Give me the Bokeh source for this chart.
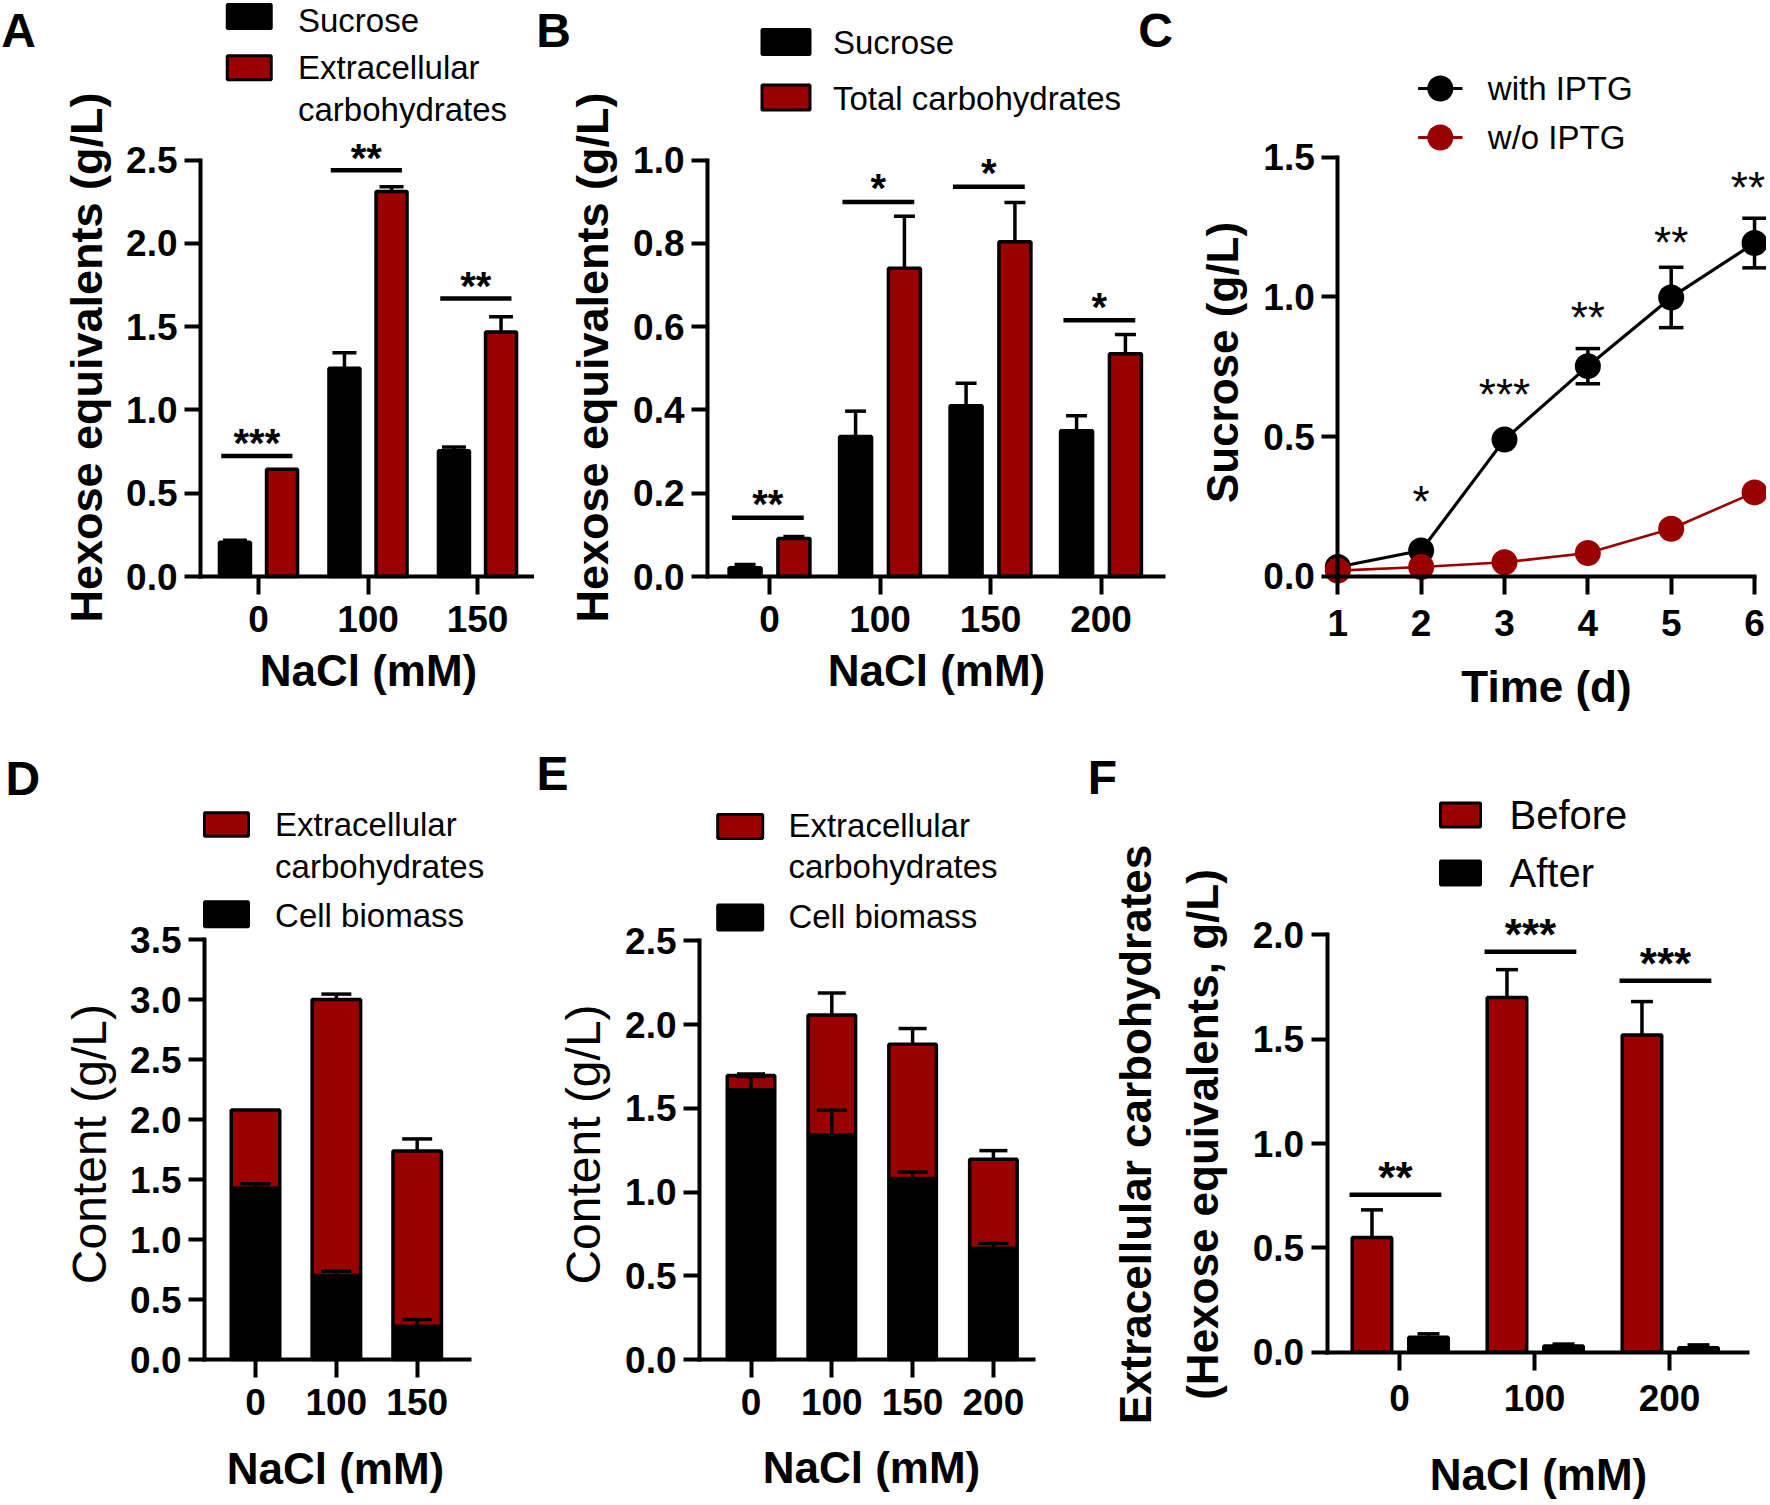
import math
from bokeh.plotting import figure
from bokeh.models import Range1d, FixedTicker, NumeralTickFormatter, Label
from bokeh.layouts import row, column
from bokeh.embed import file_html
from bokeh.resources import INLINE

FONT = "Liberation Sans"
RED = "#9b0000"

# ---------------- data ----------------
# A: sucrose vs extracellular carbohydrates
a_nacl = ["0", "100", "150"]
a_sucrose = [0.205, 1.25, 0.755]
a_sucrose_err = [0.013, 0.093, 0.022]
a_extracellular = [0.644, 2.311, 1.468]
a_extracellular_err = [0.0, 0.029, 0.091]
a_sig = ["***", "**", "**"]
a_sig_y = [0.723, 2.439, 1.668]
a_yticks = [0.0, 0.5, 1.0, 1.5, 2.0, 2.5]

# B: sucrose vs total carbohydrates
b_nacl = ["0", "100", "150", "200"]
b_sucrose = [0.021, 0.336, 0.41, 0.35]
b_sucrose_err = [0.008, 0.061, 0.054, 0.036]
b_total = [0.091, 0.74, 0.804, 0.535]
b_total_err = [0.005, 0.125, 0.094, 0.046]
b_sig = ["**", "*", "*", "*"]
b_sig_y = [0.141, 0.899, 0.936, 0.615]
b_yticks = [0.0, 0.2, 0.4, 0.6, 0.8, 1.0]

# C: sucrose over time
c_days = [1, 2, 3, 4, 5, 6]
c_with_iptg = [0.033, 0.092, 0.489, 0.752, 0.998, 1.193]
c_with_iptg_err = [0.0, 0.0, 0.0, 0.063, 0.108, 0.089]
c_without_iptg = [0.02, 0.033, 0.05, 0.083, 0.17, 0.30]
c_sig_days = [2, 3, 4, 5, 6]
c_sig = ["*", "***", "**", "**", "**"]
c_sig_y = [0.295, 0.677, 0.952, 1.22, 1.417]
c_yticks = [0.0, 0.5, 1.0, 1.5]

# D: content, stacked
d_nacl = ["0", "100", "150"]
d_biomass = [1.43, 0.70, 0.278]
d_biomass_err = [0.034, 0.036, 0.055]
d_extracellular = [0.65, 2.30, 1.46]
d_extracellular_err = [0.0, 0.045, 0.10]
d_yticks = [0.0, 0.5, 1.0, 1.5, 2.0, 2.5, 3.0, 3.5]

# E: content, stacked
e_nacl = ["0", "100", "150", "200"]
e_biomass = [1.61, 1.34, 1.081, 0.664]
e_biomass_err = [0.08, 0.149, 0.038, 0.029]
e_extracellular = [0.086, 0.717, 0.801, 0.531]
e_extracellular_err = [0.009, 0.131, 0.094, 0.052]
e_yticks = [0.0, 0.5, 1.0, 1.5, 2.0, 2.5]

# F: before / after
f_nacl = ["0", "100", "200"]
f_before = [0.55, 1.70, 1.52]
f_before_err = [0.132, 0.133, 0.16]
f_after = [0.072, 0.03, 0.021]
f_after_err = [0.016, 0.009, 0.014]
f_sig = ["**", "***", "***"]
f_sig_y = [0.755, 1.919, 1.78]
f_yticks = [0.0, 0.5, 1.0, 1.5, 2.0]


# ---------------- helpers ----------------
class Panel:
    """A figure whose plotting frame covers the whole figure; axes are
    drawn at fixed locations inside it, so every text stays in the frame."""

    def __init__(self, fig_box, xref, yref):
        L, T, R, B = fig_box
        self.right = R
        self.xpx, self.xval, self.xs = xref
        self.ypx, self.yval, self.ys = yref
        p = figure(width=R - L, height=B - T,
                   x_range=Range1d(self.X(L), self.X(R)),
                   y_range=Range1d(self.Y(B), self.Y(T)),
                   min_border=0, min_border_left=0, min_border_right=0,
                   min_border_top=0, min_border_bottom=0,
                   output_backend="svg", toolbar_location=None)
        p.xgrid.visible = False
        p.ygrid.visible = False
        p.outline_line_color = None
        p.background_fill_color = "white"
        p.border_fill_color = "white"
        self.p = p

    def X(self, px):
        return self.xval + (px - self.xpx) / self.xs

    def Y(self, py):
        return self.yval + (self.ypx - py) / self.ys

    def py(self, y):
        return self.ypx - (y - self.yval) * self.ys

    def label(self, px, py, text, size, bold=False, align="left",
              angle=0.0, baseline="middle"):
        self.p.add_layout(Label(
            x=self.X(px), y=self.Y(py), text=text, text_font=FONT,
            text_font_size=f"{size}px",
            text_font_style="bold" if bold else "normal",
            text_align=align, text_baseline=baseline, angle=angle,
            text_color="black"))

    def box(self, cx, cy, w, h, color):
        self.p.rect(x=[self.X(cx)], y=[self.Y(cy)], width=w, height=h,
                    width_units="screen", height_units="screen",
                    fill_color=color, line_color="black", line_width=3)


def style_axis(ax, tick_out, standoff):
    ax.axis_line_width = 4
    ax.axis_line_color = "black"
    ax.axis_line_cap = "square"
    ax.major_tick_line_width = 4
    ax.major_tick_line_color = "black"
    ax.major_tick_in = 0
    ax.major_tick_out = tick_out
    ax.minor_tick_line_color = None
    ax.major_label_text_font = FONT
    ax.major_label_text_font_size = "37px"
    ax.major_label_text_font_style = "bold"
    ax.major_label_text_color = "black"
    ax.major_label_standoff = standoff


def bar_axes(pn, cats, yticks, x_standoff, yaxis_px, xend_px):
    xa, ya = pn.p.xaxis[0], pn.p.yaxis[0]
    style_axis(xa, 18, x_standoff)
    style_axis(ya, 16, 7)
    xa.fixed_location = 0
    ya.fixed_location = pn.X(yaxis_px)
    xa.bounds = (pn.X(yaxis_px), pn.X(xend_px))
    xa.ticker = FixedTicker(ticks=list(range(len(cats))))
    xa.major_label_overrides = {i: c for i, c in enumerate(cats)}
    ya.ticker = FixedTicker(ticks=yticks)
    ya.formatter = NumeralTickFormatter(format="0.0")
    ya.bounds = (min(yticks), max(yticks))


def errbars(pn, xs, vals, errs, cap_px, both=False, lw=3.5):
    pts = [(x, v, e) for x, v, e in zip(xs, vals, errs) if e > 0]
    if not pts:
        return
    x = [t[0] for t in pts]
    hi = [t[1] + t[2] for t in pts]
    lo = [t[1] - t[2] if both else t[1] for t in pts]
    half = cap_px / 2.0 / pn.xs
    p = pn.p
    p.segment(x0=x, y0=lo, x1=x, y1=hi, line_color="black", line_width=lw)
    p.segment(x0=[v - half for v in x], y0=hi, x1=[v + half for v in x], y1=hi,
              line_color="black", line_width=lw)
    if both:
        p.segment(x0=[v - half for v in x], y0=lo, x1=[v + half for v in x], y1=lo,
                  line_color="black", line_width=lw)


def star_label(pn, px, centre_py, text, size, bold):
    # keep the text inside the canvas; the asterisk sits ~0.21 em above
    # the middle of the em box
    half_w = 0.2 * size * len(text)
    px = min(px, pn.right - half_w - 1)
    pn.label(px, centre_py + 0.21 * size, text, size, bold=bold, align="center")


def sig_marks(pn, sig_y, sig_text, lo, hi, star_px, star_size):
    n = len(sig_y)
    pn.p.segment(x0=[i + lo for i in range(n)], y0=sig_y,
                 x1=[i + hi for i in range(n)], y1=sig_y,
                 line_color="black", line_width=4.5)
    for i, (y, t) in enumerate(zip(sig_y, sig_text)):
        star_label(pn, pn.xpx + (i + (lo + hi) / 2.0) * pn.xs,
                   pn.py(y) - star_px, t, star_size, True)


# ---------------- Panel A ----------------
pa = Panel((0, 0, 534, 725), (258, 0, 109.5), (576, 0, 166.6))
bar_axes(pa, a_nacl, a_yticks, 11, 200, 533)
na = len(a_nacl)
xa_k = [i - 0.215 for i in range(na)]
xa_r = [i + 0.215 for i in range(na)]
wa = 31.0 / pa.xs
pa.p.vbar(x=xa_k, top=a_sucrose, width=wa, fill_color="black", line_color="black", line_width=3.5)
pa.p.vbar(x=xa_r, top=a_extracellular, width=wa, fill_color=RED, line_color="black", line_width=3.5)
errbars(pa, xa_k, a_sucrose, a_sucrose_err, 24)
errbars(pa, xa_r, a_extracellular, a_extracellular_err, 24)
sig_marks(pa, a_sig_y, a_sig, -0.34, 0.31, 21, 40)
pa.box(248.75, 16, 44, 24, "black")
pa.box(248.75, 67.3, 44, 24, RED)
pa.label(297.5, 20, "Sucrose", 33)
pa.label(297.5, 67.3, "Extracellular", 33)
pa.label(297.5, 108.5, "carbohydrates", 33)
pa.label(85.7, 357, "Hexose equivalents (g/L)", 45, bold=True, align="center", angle=math.pi / 2)
pa.label(368, 670, "NaCl (mM)", 44, bold=True, align="center")
pa.label(18, 30, "A", 48, bold=True, align="center")

# ---------------- Panel B ----------------
pb = Panel((534, 0, 1175, 725), (769, 0, 110.5), (576, 0, 416.5))
bar_axes(pb, b_nacl, b_yticks, 11, 707, 1163)
nb = len(b_nacl)
xb_k = [i - 0.221 for i in range(nb)]
xb_r = [i + 0.221 for i in range(nb)]
wb = 32.0 / pb.xs
pb.p.vbar(x=xb_k, top=b_sucrose, width=wb, fill_color="black", line_color="black", line_width=3.5)
pb.p.vbar(x=xb_r, top=b_total, width=wb, fill_color=RED, line_color="black", line_width=3.5)
errbars(pb, xb_k, b_sucrose, b_sucrose_err, 21)
errbars(pb, xb_r, b_total, b_total_err, 21)
sig_marks(pb, b_sig_y, b_sig, -0.34, 0.31, 22, 40)
pb.box(785.5, 41.5, 48, 25, "black")
pb.box(785.5, 97, 48, 25, RED)
pb.label(832.5, 42, "Sucrose", 33)
pb.label(832.5, 97.5, "Total carbohydrates", 33)
pb.label(591.7, 357, "Hexose equivalents (g/L)", 45, bold=True, align="center", angle=math.pi / 2)
pb.label(936, 670, "NaCl (mM)", 44, bold=True, align="center")
pb.label(553, 30, "B", 48, bold=True, align="center")
pb.label(1155, 30, "C", 48, bold=True, align="center")

# ---------------- Panel C ----------------
pc = Panel((1175, 0, 1766, 725), (1337.3, 1, 83.35), (575.7, 0, 279.3))
cx_ax, cy_ax = pc.p.xaxis[0], pc.p.yaxis[0]
style_axis(cx_ax, 18, 16)
style_axis(cy_ax, 16, 7)
cx_ax.fixed_location = 0
cy_ax.fixed_location = 1
cx_ax.bounds = (min(c_days), max(c_days))
cy_ax.bounds = (min(c_yticks), max(c_yticks))
cx_ax.ticker = FixedTicker(ticks=c_days)
cy_ax.ticker = FixedTicker(ticks=c_yticks)
cy_ax.formatter = NumeralTickFormatter(format="0.0")
pc.p.line(c_days, c_with_iptg, line_color="black", line_width=3.2)
errbars(pc, c_days, c_with_iptg, c_with_iptg_err, 24.5, both=True)
pc.p.scatter(c_days, c_with_iptg, size=26, marker="circle", fill_color="black", line_color=None)
pc.p.line(c_days, c_without_iptg, line_color=RED, line_width=2.6)
pc.p.scatter(c_days, c_without_iptg, size=26, marker="circle", fill_color=RED, line_color=None)
for d, t, y in zip(c_sig_days, c_sig, c_sig_y):
    star_label(pc, pc.xpx + (d - 1) * pc.xs, pc.py(y) - 2, t, 44, False)
for yy, col in ((88, "black"), (137, RED)):
    pc.p.line([pc.X(1417.6), pc.X(1462)], [pc.Y(yy), pc.Y(yy)], line_color=col, line_width=3)
    pc.p.scatter([pc.X(1439.8)], [pc.Y(yy)], size=26, marker="circle", fill_color=col, line_color=None)
pc.label(1487.3, 88, "with IPTG", 33)
pc.label(1487.3, 137, "w/o IPTG", 33)
pc.label(1222, 362, "Sucrose (g/L)", 44, bold=True, align="center", angle=math.pi / 2)
pc.label(1546, 686, "Time (d)", 44, bold=True, align="center")

# ---------------- Panel D ----------------
pdn = Panel((0, 725, 523, 1501), (255, 0, 80.85), (1359, 0, 120))
bar_axes(pdn, d_nacl, d_yticks, 11, 204, 468.5)
nd = len(d_nacl)
xd = list(range(nd))
d_total = [b + e for b, e in zip(d_biomass, d_extracellular)]
wd = 48.5 / pdn.xs
pdn.p.vbar(x=xd, top=d_biomass, width=wd, fill_color="black", line_color="black", line_width=3.5)
pdn.p.vbar(x=xd, bottom=d_biomass, top=d_total, width=wd, fill_color=RED, line_color="black", line_width=3.5)
errbars(pdn, xd, d_biomass, d_biomass_err, 30)
errbars(pdn, xd, d_total, d_extracellular_err, 30)
pdn.box(226, 824, 44, 23.5, RED)
pdn.box(226, 913.8, 44, 25, "black")
pdn.label(274.6, 824, "Extracellular", 33)
pdn.label(274.6, 865.6, "carbohydrates", 33)
pdn.label(274.6, 915, "Cell biomass", 33)
pdn.label(88.7, 1143.6, "Content (g/L)", 48, align="center", angle=math.pi / 2)
pdn.label(335, 1467.6, "NaCl (mM)", 44, bold=True, align="center")
pdn.label(22.4, 777.5, "D", 48, bold=True, align="center")

# ---------------- Panel E ----------------
pe = Panel((523, 725, 1070, 1501), (750.5, 0, 80.8), (1359, 0, 167.5))
bar_axes(pe, e_nacl, e_yticks, 11, 699, 1033)
ne = len(e_nacl)
xe = list(range(ne))
e_total = [b + e for b, e in zip(e_biomass, e_extracellular)]
we = 47.5 / pe.xs
pe.p.vbar(x=xe, top=e_biomass, width=we, fill_color="black", line_color="black", line_width=3.5)
pe.p.vbar(x=xe, bottom=e_biomass, top=e_total, width=we, fill_color=RED, line_color="black", line_width=3.5)
errbars(pe, xe, e_biomass, e_biomass_err, 30)
errbars(pe, xe, e_total, e_extracellular_err, 28)
pe.box(739.7, 826, 45, 24, RED)
pe.box(739.7, 917, 45, 25, "black")
pe.label(787.9, 825, "Extracellular", 33)
pe.label(787.9, 866, "carbohydrates", 33)
pe.label(787.9, 916, "Cell biomass", 33)
pe.label(583, 1144, "Content (g/L)", 48, align="center", angle=math.pi / 2)
pe.label(871, 1467, "NaCl (mM)", 44, bold=True, align="center")
pe.label(552, 773, "E", 48, bold=True, align="center")

# ---------------- Panel F ----------------
pf = Panel((1070, 725, 1766, 1501), (1399, 0, 135), (1351.7, 0, 208.7))
bar_axes(pf, f_nacl, f_yticks, 15, 1326.7, 1747)
nf = len(f_nacl)
xf_r = [i - 0.204 for i in range(nf)]
xf_k = [i + 0.215 for i in range(nf)]
wf = 39.5 / pf.xs
pf.p.vbar(x=xf_r, top=f_before, width=wf, fill_color=RED, line_color="black", line_width=3.5)
pf.p.vbar(x=xf_k, top=f_after, width=wf, fill_color="black", line_color="black", line_width=3.5)
errbars(pf, xf_r, f_before, f_before_err, 22)
errbars(pf, xf_k, f_after, f_after_err, 22)
sig_marks(pf, f_sig_y, f_sig, -0.37, 0.31, 26, 44)
pf.box(1460, 814.5, 40, 24, RED)
pf.box(1460, 872.5, 40, 24, "black")
pf.label(1509, 814, "Before", 40)
pf.label(1509, 872, "After", 40)
pf.label(1135, 1134, "Extracellular carbohydrates", 44, bold=True, align="center", angle=math.pi / 2)
pf.label(1202, 1134, "(Hexose equivalents, g/L)", 44, bold=True, align="center", angle=math.pi / 2)
pf.label(1538, 1474, "NaCl (mM)", 44, bold=True, align="center")
pf.label(1102, 777, "F", 48, bold=True, align="center")

layout = column(row(pa.p, pb.p, pc.p), row(pdn.p, pe.p, pf.p))

with open("out.html", "w") as fh:
    fh.write(file_html(layout, INLINE, "Figure"))
